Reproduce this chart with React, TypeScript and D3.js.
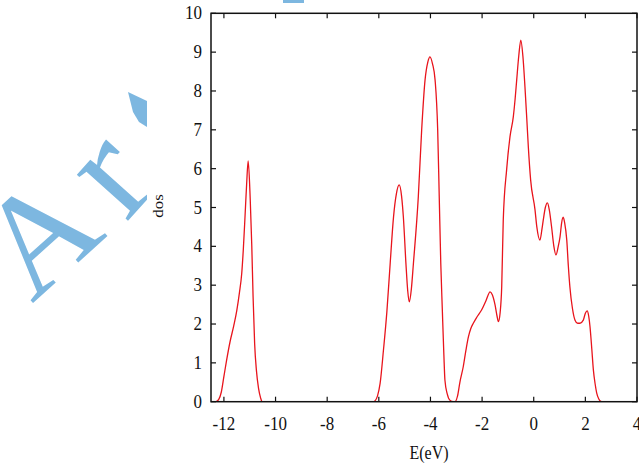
import React from "react";
import * as d3 from "d3";

// Density of states sampled along the energy axis (eV)
const energy = [
  -12.5, -12.32, -12.2, -12.1, -12.0, -11.9, -11.76, -11.62, -11.5, -11.4, -11.31, -11.25, -11.18, -11.12, -11.06,
  -10.98, -10.92, -10.87, -10.81, -10.74, -10.66, -10.58, -10.52,
  -6.2, -6.15, -6.05, -5.95, -5.82, -5.69, -5.56, -5.43, -5.32, -5.21, -5.12, -5.05, -4.95, -4.88, -4.82, -4.74,
  -4.66, -4.47, -4.34, -4.21, -4.1, -4.02, -3.92, -3.82, -3.72, -3.66, -3.6, -3.54, -3.48, -3.44, -3.35, -3.25,
  -3.12, -3.05, -2.95, -2.86, -2.73, -2.62, -2.53, -2.44, -2.34, -2.2, -2.02, -1.85, -1.69, -1.6, -1.5, -1.42,
  -1.37, -1.3, -1.24, -1.18, -1.05, -0.92, -0.79, -0.72, -0.66, -0.58, -0.5, -0.42, -0.34, -0.27, -0.21, -0.12,
  0.05, 0.12, 0.24, 0.32, 0.37, 0.45, 0.53, 0.6, 0.69, 0.78, 0.86, 0.95, 1.02, 1.08, 1.14, 1.2, 1.28, 1.34, 1.4,
  1.5, 1.6, 1.7, 1.79, 1.92, 2.0, 2.07, 2.13, 2.18, 2.25, 2.31, 2.38, 2.44, 2.52, 2.63, 4.0,
];
const dos = [
  0, 0, 0.06, 0.25, 0.65, 1.05, 1.55, 1.95, 2.35, 2.8, 3.3, 3.9, 4.8, 5.6, 6.2,
  5.2, 4.0, 2.7, 1.5, 0.8, 0.35, 0.1, 0,
  0, 0.02, 0.15, 0.47, 1.33, 2.3, 3.56, 4.76, 5.35, 5.58, 5.3, 4.76, 3.56, 2.85, 2.57, 2.9,
  3.56, 5.28, 7.0, 8.28, 8.75, 8.88, 8.7, 8.28, 7.0, 5.28, 3.56, 2.36, 1.2, 0.56, 0.2, 0.04,
  0, 0, 0.15, 0.5, 0.9, 1.35, 1.67, 1.88, 2.02, 2.18, 2.36, 2.6, 2.83, 2.75, 2.5, 2.2,
  2.06, 2.3, 2.96, 4.68, 5.97, 6.82, 7.34, 7.8, 8.28, 8.9, 9.31, 8.9, 8.11, 7.3, 6.57, 5.71,
  4.94, 4.5, 4.16, 4.45, 4.68, 5.0, 5.12, 4.95, 4.51, 4.0, 3.78, 4.0, 4.25, 4.6, 4.75, 4.6, 4.16, 3.5, 2.96,
  2.4, 2.1, 2.02, 2.02, 2.1, 2.28, 2.34, 2.2, 1.93, 1.35, 0.82, 0.45, 0.22, 0.07, 0, 0,
];

const xTicks = [-12, -10, -8, -6, -4, -2, 0, 2, 4];
const yTicks = [0, 1, 2, 3, 4, 5, 6, 7, 8, 9, 10];
const xDomain = [-12.5, 4];
const yDomain = [0, 10];

const W = 639;
const H = 465;
const plot = { left: 211, right: 637, top: 13.3, bottom: 401.7 };
const tickLen = 5;
const font = "Liberation Serif, Times New Roman, Times, serif";
const stretch = 1.12;
const markBlue = "#7db7e0";

export default function App() {
  const x = d3.scaleLinear().domain(xDomain).range([plot.left, plot.right]);
  const y = d3.scaleLinear().domain(yDomain).range([plot.bottom, plot.top]);
  const points = energy.map((e, i) => [e, dos[i]] as [number, number]);
  const line = d3
    .line<[number, number]>()
    .x((d) => x(d[0]))
    .y((d) => y(d[1]))
    .curve(d3.curveMonotoneX);

  return (
    <svg
      width={W}
      height={H}
      viewBox={`0 0 ${W} ${H}`}
      style={{ position: "absolute", left: 0, top: 0, background: "#fff" }}
    >
      <defs>
        <clipPath id="markClip">
          <rect x={0} y={0} width={147} height={H} />
        </clipPath>
        <clipPath id="plotClip">
          <rect x={plot.left} y={plot.top} width={plot.right - plot.left} height={plot.bottom - plot.top} />
        </clipPath>
      </defs>

      {/* watermark lettering set along an arc */}
      <g clipPath="url(#markClip)" fill={markBlue} fontFamily={font}>
        <text transform="translate(32,304) rotate(-42)" fontSize={142}>A</text>
        <text transform="translate(126,223) rotate(-48)" fontSize={150}>r</text>
        <path d="M128,92 L147,101 L147,127 L139,122 L133,112 Z" />
      </g>
      <rect x={283} y={0} width={21} height={3} fill={markBlue} />

      {/* DOS curve */}
      <path d={line(points) ?? ""} fill="none" stroke="#e8141c" strokeWidth={1.3} clipPath="url(#plotClip)" />

      {/* frame */}
      <rect
        x={plot.left}
        y={plot.top}
        width={plot.right - plot.left}
        height={plot.bottom - plot.top}
        fill="none"
        stroke="#111"
        strokeWidth={1.5}
      />

      {/* x ticks, bottom and mirrored top */}
      {xTicks.map((t) => (
        <g key={`xt${t}`}>
          <line x1={x(t)} x2={x(t)} y1={plot.bottom} y2={plot.bottom - tickLen} stroke="#111" strokeWidth={1.2} />
          <line x1={x(t)} x2={x(t)} y1={plot.top} y2={plot.top + tickLen} stroke="#111" strokeWidth={1.2} />
          <text
            transform={`translate(${x(t)},${plot.bottom + 28}) scale(1,${stretch})`}
            textAnchor="middle"
            fontFamily={font}
            fontSize={17}
            fill="#111"
          >
            {String(t).replace("\u2212", "-")}
          </text>
        </g>
      ))}

      {/* y ticks, left and mirrored right */}
      {yTicks.map((t) => (
        <g key={`yt${t}`}>
          <line x1={plot.left} x2={plot.left + tickLen} y1={y(t)} y2={y(t)} stroke="#111" strokeWidth={1.2} />
          <line x1={plot.right} x2={plot.right - tickLen} y1={y(t)} y2={y(t)} stroke="#111" strokeWidth={1.2} />
          <text
            transform={`translate(${plot.left - 9},${y(t) + 6}) scale(1,${stretch})`}
            textAnchor="end"
            fontFamily={font}
            fontSize={17}
            fill="#111"
          >
            {t}
          </text>
        </g>
      ))}

      {/* axis titles */}
      <text
        transform={`translate(${(plot.left + plot.right) / 2 + 5},459) scale(1,${stretch})`}
        textAnchor="middle"
        fontFamily={font}
        fontSize={16}
        fill="#111"
      >
        E(eV)
      </text>
      <text
        transform={`translate(163,206) scale(1,${stretch}) rotate(-90)`}
        textAnchor="middle"
        fontFamily={font}
        fontSize={15}
        fill="#111"
      >
        dos
      </text>
    </svg>
  );
}
